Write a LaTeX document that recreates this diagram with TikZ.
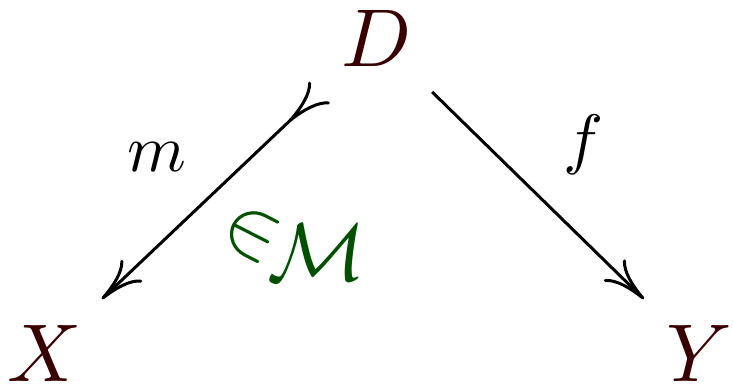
\documentclass[tikz,border=0pt]{standalone}
\usetikzlibrary{arrows.meta}
\definecolor{objcol}{RGB}{56,0,0}
\definecolor{memcol}{RGB}{0,80,0}
\begin{document}
\begin{tikzpicture}[x=0.25pt,y=-0.25pt,
  obj/.style={inner sep=0pt,outer sep=3.17pt,text=objcol,scale=2.05},
  lbl/.style={inner sep=0pt,scale=1.675},
  mem/.style={inner sep=0pt,text=memcol,scale=2.05},
  cmtip/.tip={Computer Modern Rightarrow[length=10.5pt,width=7.6pt]},
  arr/.style={line width=0.75pt}]
\useasboundingbox (0,0) rectangle (733,385);
\node[obj] (D) at (377,38) {$D$};
\node[obj] (X) at (45,353) {$X$};
\node[obj] (Y) at (699,353) {$Y$};
\draw[arr,{cmtip[reversed]}-{cmtip}] (D) -- (X);
\draw[arr,-{cmtip}] (D) -- (Y);
\node[lbl,anchor=base] (m) at (157,172) {$m$};
\node[lbl,anchor=base] (f) at (584,162) {$f$};
\node[mem,rotate=-27] (in) at (251,234) {$\in$};
\node[mem,anchor=base] (M) at (317,281) {$\mathcal{M}$};
\end{tikzpicture}
\end{document}
